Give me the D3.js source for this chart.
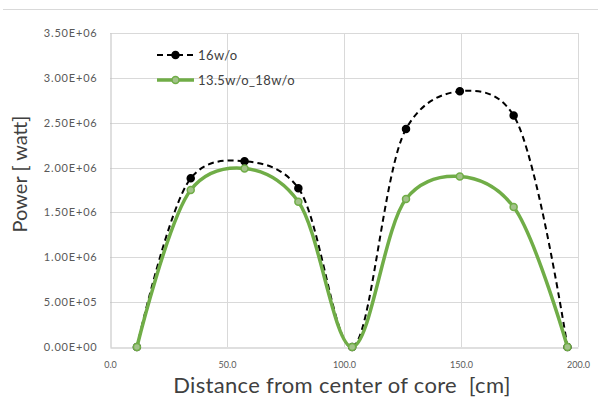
<!DOCTYPE html>
<html>
<head>
<meta charset="utf-8">
<script src="https://cdn.jsdelivr.net/npm/d3@7"></script>
<style>
	body { margin: 0; background: #fff; }
	svg { display: block; font-family: Lato, "Open Sans", sans-serif; }
</style>
</head>
<body>
<div id="chart"></div>
<script>
////////////////////////////////////////////////////////////
//// Data //////////////////////////////////////////////////
////////////////////////////////////////////////////////////
const distance = [11.5, 34.5, 57.5, 80.5, 103.5, 126.5, 149.5, 172.5, 195.5];
const power16 = [0, 1.88e6, 2.07e6, 1.77e6, 0, 2.43e6, 2.85e6, 2.58e6, 0];
const power135_18 = [0, 1.75e6, 1.99e6, 1.62e6, 0, 1.65e6, 1.90e6, 1.56e6, 0];
const seriesNames = ["16w/o", "13.5w/o_18w/o"];
const xTicks = [0, 50, 100, 150, 200];
const yTicks = [0, 5e5, 1e6, 1.5e6, 2e6, 2.5e6, 3e6, 3.5e6];

////////////////////////////////////////////////////////////
//// Setup /////////////////////////////////////////////////
////////////////////////////////////////////////////////////
const width = 598;
const height = 406;
const margin = { top: 33, right: 20, bottom: 59, left: 110 };

const x = d3.scaleLinear()
	.domain([0, 200])
	.range([margin.left, width - margin.right]);

const y = d3.scaleLinear()
	.domain([0, 3.5e6])
	.range([height - margin.bottom, margin.top]);

const sciFormat = v => {
	const [m, e] = v.toExponential(2).split("e");
	const n = Math.abs(+e);
	return `${m}E${+e < 0 ? "-" : "+"}${n < 10 ? "0" + n : n}`;
};

const line = d3.line()
	.x(d => x(d[0]))
	.y(d => y(d[1]))
	.curve(d3.curveCatmullRom.alpha(0.3));

const series = [
	{ name: seriesNames[0], values: distance.map((d, i) => [d, power16[i]]),
		color: "#000", width: 2, dash: "6,4", fill: "#000", stroke: "#000" },
	{ name: seriesNames[1], values: distance.map((d, i) => [d, power135_18[i]]),
		color: "#70ad47", width: 3.5, dash: null, fill: "#a2c289", stroke: "#70ad47" }
];

const svg = d3.select("#chart")
	.append("svg")
	.attr("width", width)
	.attr("height", height);

////////////////////////////////////////////////////////////
//// Render ////////////////////////////////////////////////
////////////////////////////////////////////////////////////
// Chart frame top edge
svg.append("line")
	.attr("x1", 3).attr("x2", width)
	.attr("y1", 9.5).attr("y2", 9.5)
	.attr("stroke", "#d9d9d9");

// Grid
svg.append("g")
	.selectAll("line")
	.data(yTicks.slice(1))
	.join("line")
	.attr("x1", x(0)).attr("x2", x(200))
	.attr("y1", d => Math.round(y(d)) + 0.5)
	.attr("y2", d => Math.round(y(d)) + 0.5)
	.attr("stroke", "#d9d9d9");

svg.append("g")
	.selectAll("line")
	.data(xTicks.slice(1))
	.join("line")
	.attr("x1", d => Math.round(x(d)) + 0.5)
	.attr("x2", d => Math.round(x(d)) + 0.5)
	.attr("y1", y(0)).attr("y2", y(3.5e6))
	.attr("stroke", "#d9d9d9");

// Axes
svg.append("g")
	.attr("transform", `translate(${Math.round(x(0)) + 0.5},0)`)
	.call(d3.axisLeft(y).tickValues(yTicks).tickFormat(sciFormat).tickSize(0).tickPadding(13))
	.call(g => g.select(".domain").attr("stroke", "#bfbfbf"))
	.call(g => g.selectAll("text")
		.attr("fill", "#595959")
		.style("font-size", "11px")
		.style("letter-spacing", "0.8px")
		.style("font-family", "Lato, sans-serif"));

svg.append("g")
	.attr("transform", `translate(0,${Math.round(y(0)) + 0.5})`)
	.call(d3.axisBottom(x).tickValues(xTicks).tickFormat(d3.format(".1f")).tickSize(0).tickPadding(14))
	.call(g => g.select(".domain").attr("stroke", "#bfbfbf"))
	.call(g => g.selectAll("text")
		.attr("fill", "#595959")
		.style("font-size", "9px")
		.style("font-family", "Lato, sans-serif"));

// Axis titles
svg.append("text")
	.attr("transform", `translate(27,${(y(0) + y(3.5e6)) / 2 - 16}) rotate(-90)`)
	.attr("text-anchor", "middle")
	.attr("fill", "#404040")
	.style("font-size", "20px")
	.text("Power [ watt]");

svg.append("text")
	.attr("x", 342)
	.attr("y", 393)
	.attr("text-anchor", "middle")
	.attr("xml:space", "preserve")
	.attr("fill", "#404040")
	.style("font-size", "22px")
	.style("letter-spacing", "0.3px")
	.style("white-space", "pre")
	.text("Distance from center of core  [cm]");

// Lines
const seriesG = svg.append("g")
	.selectAll("g")
	.data(series)
	.join("g");

seriesG.append("path")
	.attr("fill", "none")
	.attr("stroke", d => d.color)
	.attr("stroke-width", d => d.width)
	.attr("stroke-dasharray", d => d.dash)
	.attr("d", d => line(d.values));

seriesG.selectAll("circle")
	.data(d => d.values.map(v => ({ v, s: d })))
	.join("circle")
	.attr("cx", d => x(d.v[0]))
	.attr("cy", d => y(d.v[1]))
	.attr("r", 3.5)
	.attr("fill", d => d.s.fill)
	.attr("stroke", d => d.s.stroke)
	.attr("stroke-width", 1.5);

// Legend
const legend = svg.append("g")
	.attr("transform", "translate(157,55)")
	.selectAll("g")
	.data(series)
	.join("g")
	.attr("transform", (d, i) => `translate(0,${i * 25})`);

legend.append("line")
	.attr("x1", 0).attr("x2", 37)
	.attr("stroke", d => d.color)
	.attr("stroke-width", d => d.width)
	.attr("stroke-dasharray", d => d.dash);

legend.append("circle")
	.attr("cx", 18.5)
	.attr("r", 3.5)
	.attr("fill", d => d.fill)
	.attr("stroke", d => d.stroke)
	.attr("stroke-width", 1.5);

legend.append("text")
	.attr("x", 41)
	.attr("dy", "0.35em")
	.attr("fill", "#404040")
	.style("font-size", "13px")
	.style("letter-spacing", "0.4px")
	.text(d => d.name);
</script>
</body>
</html>
